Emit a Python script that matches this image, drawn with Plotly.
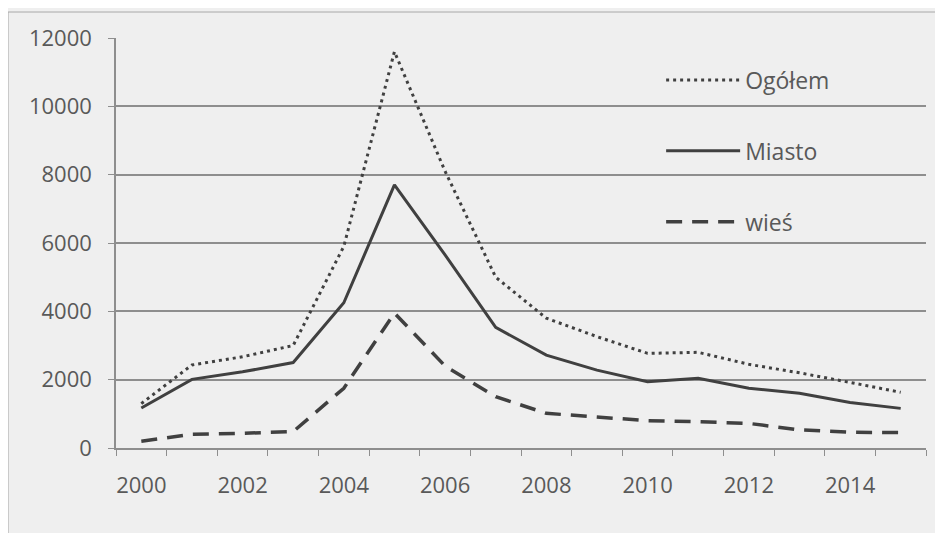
import plotly.graph_objects as go

years = list(range(2000, 2016))
ogolem = [1300, 2430, 2670, 3000, 5900, 11600, 8100, 5000, 3800, 3260, 2770, 2800, 2450, 2200, 1920, 1630]
miasto = [1170, 2010, 2230, 2500, 4250, 7700, 5650, 3530, 2720, 2280, 1940, 2040, 1750, 1600, 1330, 1160]
wies = [200, 400, 430, 480, 1750, 3950, 2400, 1500, 1015, 900, 800, 770, 720, 530, 460, 450]
x_ticks = [2000, 2002, 2004, 2006, 2008, 2010, 2012, 2014]
y_ticks = [0, 2000, 4000, 6000, 8000, 10000, 12000]

line_col = "#404040"
grid_col = "#8e8e8e"
text_col = "#595959"
bg = "#efefef"
font_family = "Open Sans, DejaVu Sans, sans-serif"

fig = go.Figure()
fig.add_trace(go.Scatter(x=years, y=ogolem, name="Ogółem", mode="lines", legendgroup="a",
                         line=dict(color=line_col, width=3, dash="3px,4px")))
fig.add_trace(go.Scatter(x=years, y=miasto, name="Miasto", mode="lines", legendgroup="b",
                         line=dict(color=line_col, width=3)))
fig.add_trace(go.Scatter(x=years, y=wies, name="wieś", mode="lines", legendgroup="c",
                         line=dict(color=line_col, width=3.5, dash="16px,10px")))

fig.update_layout(
    width=943, height=533,
    margin=dict(l=108, r=25, t=30, b=93),
    paper_bgcolor=bg, plot_bgcolor=bg,
    font=dict(family=font_family, size=22, color=text_col),
    showlegend=True,
    legend=dict(x=0.673, y=0.95, xanchor="left", yanchor="top",
                bgcolor="rgba(0,0,0,0)", tracegroupgap=38, itemwidth=74,
                font=dict(size=23, color=text_col)),
    xaxis=dict(range=[1999.5, 2015.5], tickmode="array", tickvals=x_ticks,
               ticktext=[str(v) for v in x_ticks], ticks="", showgrid=False,
               showline=True, linecolor=grid_col, linewidth=1.5, zeroline=False,
               ticklabelstandoff=17,
               minor=dict(ticks="outside", tick0=1999.5, dtick=1, ticklen=6,
                          tickcolor=grid_col, tickwidth=1, showgrid=False)),
    yaxis=dict(range=[0, 12000], tickmode="array", tickvals=y_ticks,
               ticktext=[str(v) for v in y_ticks],
               ticks="outside", ticklen=6, tickcolor=grid_col, tickwidth=1,
               showgrid=True, gridcolor=grid_col, gridwidth=1.5,
               showline=True, linecolor=grid_col, linewidth=1.5, zeroline=False,
               ticklabelstandoff=12),
    shapes=[dict(type="rect", xref="paper", yref="paper",
                 x0=-0.1333, y0=-0.4, x1=1.1, y1=1.0634,
                 line=dict(color="#a8a8a8", width=1), fillcolor="rgba(0,0,0,0)", layer="below")],
)

fig.write_html("out.html")
